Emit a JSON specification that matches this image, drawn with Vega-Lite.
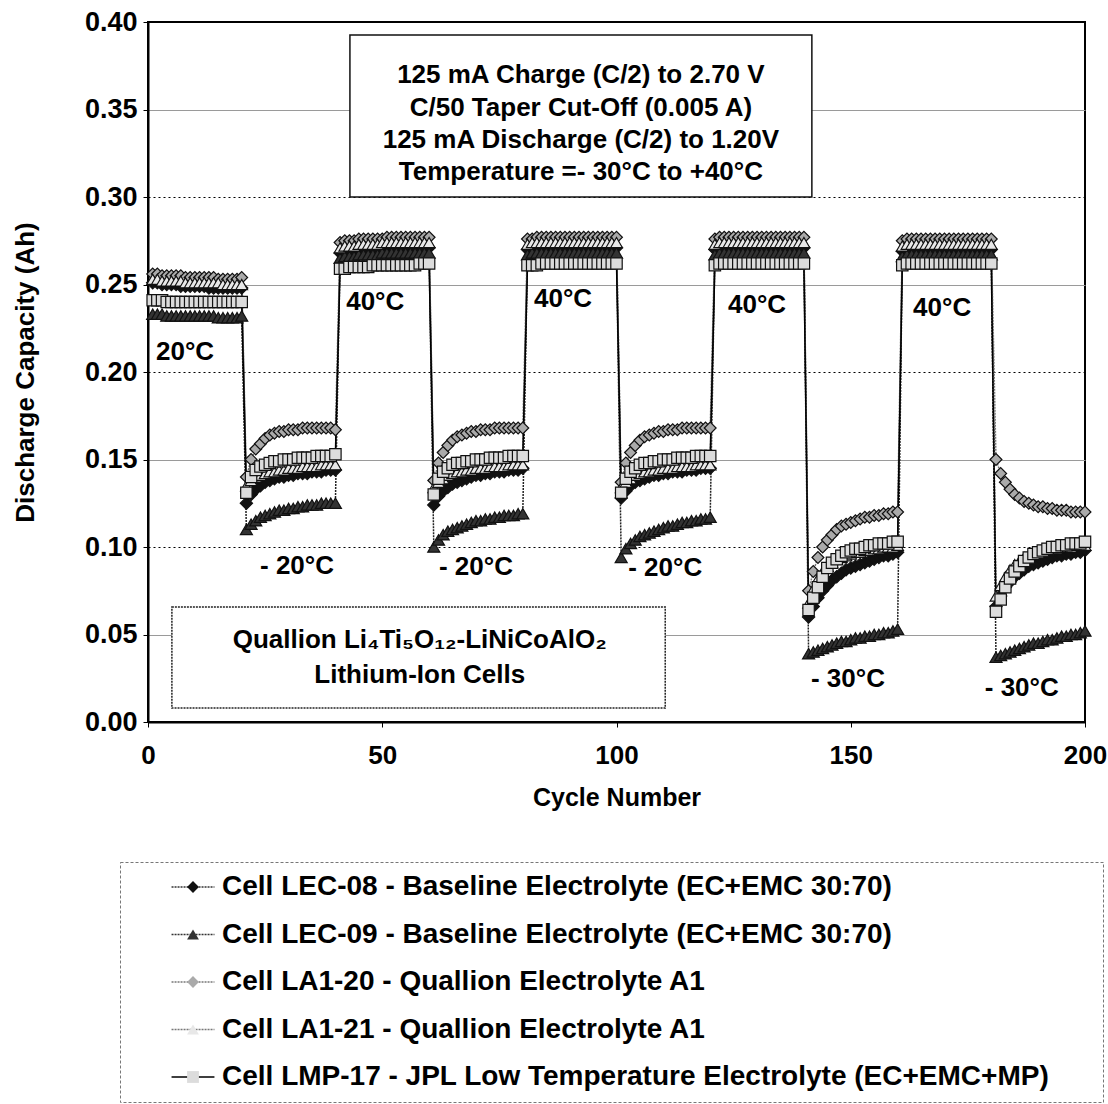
{
"$schema": "https://vega.github.io/schema/vega-lite/v6.json",
"autosize": {"type": "none"},
"width": 937, "height": 700,
"padding": {"left": 148, "top": 22, "right": 23, "bottom": 382},
"background": "white",
"config": {"view": {"stroke": "#000", "strokeWidth": 2}, "font": "Liberation Sans"},
"datasets": {
"cap": [
{"c":1,"A":0.251,"B":0.233,"C":0.256,"D":0.253,"E":0.241},
{"c":2,"A":0.251,"B":0.233,"C":0.256,"D":0.253,"E":0.241},
{"c":3,"A":0.250,"B":0.233,"C":0.255,"D":0.252,"E":0.241},
{"c":4,"A":0.250,"B":0.232,"C":0.255,"D":0.252,"E":0.240},
{"c":5,"A":0.250,"B":0.232,"C":0.255,"D":0.252,"E":0.240},
{"c":6,"A":0.250,"B":0.232,"C":0.255,"D":0.252,"E":0.240},
{"c":7,"A":0.249,"B":0.232,"C":0.255,"D":0.252,"E":0.240},
{"c":8,"A":0.249,"B":0.232,"C":0.254,"D":0.251,"E":0.240},
{"c":9,"A":0.249,"B":0.232,"C":0.254,"D":0.251,"E":0.240},
{"c":10,"A":0.249,"B":0.232,"C":0.254,"D":0.251,"E":0.240},
{"c":11,"A":0.249,"B":0.232,"C":0.254,"D":0.251,"E":0.240},
{"c":12,"A":0.249,"B":0.232,"C":0.254,"D":0.251,"E":0.240},
{"c":13,"A":0.248,"B":0.232,"C":0.254,"D":0.251,"E":0.240},
{"c":14,"A":0.248,"B":0.232,"C":0.254,"D":0.251,"E":0.240},
{"c":15,"A":0.248,"B":0.231,"C":0.253,"D":0.251,"E":0.240},
{"c":16,"A":0.248,"B":0.231,"C":0.253,"D":0.250,"E":0.240},
{"c":17,"A":0.248,"B":0.231,"C":0.253,"D":0.250,"E":0.240},
{"c":18,"A":0.248,"B":0.231,"C":0.253,"D":0.250,"E":0.240},
{"c":19,"A":0.248,"B":0.231,"C":0.253,"D":0.250,"E":0.240},
{"c":20,"A":0.248,"B":0.232,"C":0.254,"D":0.250,"E":0.240},
{"c":21,"A":0.125,"B":0.110,"C":0.140,"D":0.135,"E":0.131},
{"c":22,"A":0.130,"B":0.113,"C":0.150,"D":0.138,"E":0.140},
{"c":23,"A":0.133,"B":0.115,"C":0.156,"D":0.140,"E":0.144},
{"c":24,"A":0.135,"B":0.117,"C":0.159,"D":0.141,"E":0.146},
{"c":25,"A":0.137,"B":0.118,"C":0.162,"D":0.142,"E":0.147},
{"c":26,"A":0.138,"B":0.119,"C":0.164,"D":0.143,"E":0.148},
{"c":27,"A":0.139,"B":0.120,"C":0.165,"D":0.143,"E":0.149},
{"c":28,"A":0.140,"B":0.121,"C":0.166,"D":0.144,"E":0.149},
{"c":29,"A":0.140,"B":0.121,"C":0.166,"D":0.144,"E":0.150},
{"c":30,"A":0.141,"B":0.122,"C":0.167,"D":0.145,"E":0.150},
{"c":31,"A":0.141,"B":0.122,"C":0.167,"D":0.145,"E":0.150},
{"c":32,"A":0.142,"B":0.123,"C":0.167,"D":0.145,"E":0.151},
{"c":33,"A":0.142,"B":0.123,"C":0.168,"D":0.146,"E":0.151},
{"c":34,"A":0.142,"B":0.124,"C":0.168,"D":0.146,"E":0.151},
{"c":35,"A":0.143,"B":0.124,"C":0.168,"D":0.146,"E":0.151},
{"c":36,"A":0.143,"B":0.124,"C":0.168,"D":0.146,"E":0.152},
{"c":37,"A":0.143,"B":0.125,"C":0.168,"D":0.147,"E":0.152},
{"c":38,"A":0.144,"B":0.125,"C":0.168,"D":0.147,"E":0.152},
{"c":39,"A":0.144,"B":0.125,"C":0.168,"D":0.147,"E":0.152},
{"c":40,"A":0.144,"B":0.125,"C":0.167,"D":0.147,"E":0.153},
{"c":41,"A":0.268,"B":0.265,"C":0.274,"D":0.271,"E":0.259},
{"c":42,"A":0.269,"B":0.266,"C":0.275,"D":0.272,"E":0.259},
{"c":43,"A":0.269,"B":0.266,"C":0.275,"D":0.272,"E":0.260},
{"c":44,"A":0.269,"B":0.266,"C":0.275,"D":0.272,"E":0.260},
{"c":45,"A":0.270,"B":0.267,"C":0.276,"D":0.273,"E":0.260},
{"c":46,"A":0.270,"B":0.267,"C":0.276,"D":0.273,"E":0.260},
{"c":47,"A":0.270,"B":0.267,"C":0.276,"D":0.273,"E":0.260},
{"c":48,"A":0.270,"B":0.267,"C":0.276,"D":0.273,"E":0.261},
{"c":49,"A":0.270,"B":0.267,"C":0.276,"D":0.273,"E":0.261},
{"c":50,"A":0.271,"B":0.268,"C":0.276,"D":0.274,"E":0.261},
{"c":51,"A":0.271,"B":0.268,"C":0.277,"D":0.274,"E":0.261},
{"c":52,"A":0.271,"B":0.268,"C":0.277,"D":0.274,"E":0.261},
{"c":53,"A":0.271,"B":0.268,"C":0.277,"D":0.274,"E":0.261},
{"c":54,"A":0.271,"B":0.268,"C":0.277,"D":0.274,"E":0.261},
{"c":55,"A":0.271,"B":0.268,"C":0.277,"D":0.274,"E":0.261},
{"c":56,"A":0.271,"B":0.268,"C":0.277,"D":0.274,"E":0.261},
{"c":57,"A":0.271,"B":0.268,"C":0.277,"D":0.274,"E":0.261},
{"c":58,"A":0.271,"B":0.268,"C":0.277,"D":0.274,"E":0.262},
{"c":59,"A":0.271,"B":0.268,"C":0.277,"D":0.274,"E":0.262},
{"c":60,"A":0.271,"B":0.268,"C":0.277,"D":0.274,"E":0.262},
{"c":61,"A":0.124,"B":0.100,"C":0.138,"D":0.134,"E":0.130},
{"c":62,"A":0.129,"B":0.104,"C":0.148,"D":0.137,"E":0.139},
{"c":63,"A":0.132,"B":0.107,"C":0.154,"D":0.139,"E":0.143},
{"c":64,"A":0.134,"B":0.109,"C":0.158,"D":0.141,"E":0.145},
{"c":65,"A":0.136,"B":0.110,"C":0.161,"D":0.142,"E":0.147},
{"c":66,"A":0.137,"B":0.111,"C":0.163,"D":0.143,"E":0.148},
{"c":67,"A":0.138,"B":0.112,"C":0.164,"D":0.143,"E":0.148},
{"c":68,"A":0.139,"B":0.113,"C":0.165,"D":0.144,"E":0.149},
{"c":69,"A":0.140,"B":0.114,"C":0.166,"D":0.144,"E":0.149},
{"c":70,"A":0.141,"B":0.115,"C":0.166,"D":0.145,"E":0.150},
{"c":71,"A":0.141,"B":0.115,"C":0.167,"D":0.145,"E":0.150},
{"c":72,"A":0.142,"B":0.116,"C":0.167,"D":0.145,"E":0.150},
{"c":73,"A":0.142,"B":0.116,"C":0.167,"D":0.146,"E":0.151},
{"c":74,"A":0.143,"B":0.117,"C":0.168,"D":0.146,"E":0.151},
{"c":75,"A":0.143,"B":0.117,"C":0.168,"D":0.146,"E":0.151},
{"c":76,"A":0.143,"B":0.118,"C":0.168,"D":0.146,"E":0.151},
{"c":77,"A":0.144,"B":0.118,"C":0.168,"D":0.147,"E":0.152},
{"c":78,"A":0.144,"B":0.118,"C":0.168,"D":0.147,"E":0.152},
{"c":79,"A":0.144,"B":0.119,"C":0.168,"D":0.147,"E":0.152},
{"c":80,"A":0.145,"B":0.119,"C":0.168,"D":0.147,"E":0.152},
{"c":81,"A":0.270,"B":0.267,"C":0.276,"D":0.273,"E":0.261},
{"c":82,"A":0.271,"B":0.268,"C":0.276,"D":0.274,"E":0.261},
{"c":83,"A":0.271,"B":0.268,"C":0.277,"D":0.274,"E":0.261},
{"c":84,"A":0.271,"B":0.268,"C":0.277,"D":0.274,"E":0.262},
{"c":85,"A":0.271,"B":0.268,"C":0.277,"D":0.274,"E":0.262},
{"c":86,"A":0.271,"B":0.268,"C":0.277,"D":0.274,"E":0.262},
{"c":87,"A":0.271,"B":0.268,"C":0.277,"D":0.274,"E":0.262},
{"c":88,"A":0.271,"B":0.268,"C":0.277,"D":0.274,"E":0.262},
{"c":89,"A":0.271,"B":0.268,"C":0.277,"D":0.274,"E":0.262},
{"c":90,"A":0.271,"B":0.268,"C":0.277,"D":0.274,"E":0.262},
{"c":91,"A":0.271,"B":0.268,"C":0.277,"D":0.274,"E":0.262},
{"c":92,"A":0.271,"B":0.268,"C":0.277,"D":0.274,"E":0.262},
{"c":93,"A":0.271,"B":0.268,"C":0.277,"D":0.274,"E":0.262},
{"c":94,"A":0.271,"B":0.268,"C":0.277,"D":0.274,"E":0.262},
{"c":95,"A":0.271,"B":0.268,"C":0.277,"D":0.274,"E":0.262},
{"c":96,"A":0.271,"B":0.268,"C":0.277,"D":0.274,"E":0.262},
{"c":97,"A":0.271,"B":0.268,"C":0.277,"D":0.274,"E":0.262},
{"c":98,"A":0.271,"B":0.268,"C":0.277,"D":0.274,"E":0.262},
{"c":99,"A":0.271,"B":0.268,"C":0.277,"D":0.274,"E":0.262},
{"c":100,"A":0.271,"B":0.268,"C":0.277,"D":0.274,"E":0.262},
{"c":101,"A":0.128,"B":0.094,"C":0.137,"D":0.134,"E":0.131},
{"c":102,"A":0.132,"B":0.099,"C":0.148,"D":0.137,"E":0.139},
{"c":103,"A":0.135,"B":0.102,"C":0.154,"D":0.139,"E":0.143},
{"c":104,"A":0.137,"B":0.104,"C":0.158,"D":0.141,"E":0.145},
{"c":105,"A":0.138,"B":0.106,"C":0.161,"D":0.142,"E":0.147},
{"c":106,"A":0.139,"B":0.107,"C":0.163,"D":0.143,"E":0.148},
{"c":107,"A":0.140,"B":0.108,"C":0.164,"D":0.143,"E":0.148},
{"c":108,"A":0.141,"B":0.109,"C":0.165,"D":0.144,"E":0.149},
{"c":109,"A":0.141,"B":0.110,"C":0.166,"D":0.144,"E":0.149},
{"c":110,"A":0.142,"B":0.111,"C":0.166,"D":0.145,"E":0.150},
{"c":111,"A":0.142,"B":0.112,"C":0.167,"D":0.145,"E":0.150},
{"c":112,"A":0.143,"B":0.112,"C":0.167,"D":0.145,"E":0.150},
{"c":113,"A":0.143,"B":0.113,"C":0.167,"D":0.146,"E":0.151},
{"c":114,"A":0.143,"B":0.114,"C":0.168,"D":0.146,"E":0.151},
{"c":115,"A":0.144,"B":0.114,"C":0.168,"D":0.146,"E":0.151},
{"c":116,"A":0.144,"B":0.115,"C":0.168,"D":0.146,"E":0.151},
{"c":117,"A":0.144,"B":0.115,"C":0.168,"D":0.147,"E":0.152},
{"c":118,"A":0.145,"B":0.116,"C":0.168,"D":0.147,"E":0.152},
{"c":119,"A":0.145,"B":0.116,"C":0.168,"D":0.147,"E":0.152},
{"c":120,"A":0.145,"B":0.117,"C":0.168,"D":0.147,"E":0.152},
{"c":121,"A":0.270,"B":0.267,"C":0.276,"D":0.273,"E":0.261},
{"c":122,"A":0.271,"B":0.268,"C":0.277,"D":0.274,"E":0.262},
{"c":123,"A":0.271,"B":0.268,"C":0.277,"D":0.274,"E":0.262},
{"c":124,"A":0.271,"B":0.268,"C":0.277,"D":0.274,"E":0.262},
{"c":125,"A":0.271,"B":0.268,"C":0.277,"D":0.274,"E":0.262},
{"c":126,"A":0.271,"B":0.268,"C":0.277,"D":0.274,"E":0.262},
{"c":127,"A":0.271,"B":0.268,"C":0.277,"D":0.274,"E":0.262},
{"c":128,"A":0.271,"B":0.268,"C":0.277,"D":0.274,"E":0.262},
{"c":129,"A":0.271,"B":0.268,"C":0.277,"D":0.274,"E":0.262},
{"c":130,"A":0.271,"B":0.268,"C":0.277,"D":0.274,"E":0.262},
{"c":131,"A":0.271,"B":0.268,"C":0.277,"D":0.274,"E":0.262},
{"c":132,"A":0.271,"B":0.268,"C":0.277,"D":0.274,"E":0.262},
{"c":133,"A":0.271,"B":0.268,"C":0.277,"D":0.274,"E":0.262},
{"c":134,"A":0.271,"B":0.268,"C":0.277,"D":0.274,"E":0.262},
{"c":135,"A":0.271,"B":0.268,"C":0.277,"D":0.274,"E":0.262},
{"c":136,"A":0.271,"B":0.268,"C":0.277,"D":0.274,"E":0.262},
{"c":137,"A":0.271,"B":0.268,"C":0.277,"D":0.274,"E":0.262},
{"c":138,"A":0.271,"B":0.268,"C":0.277,"D":0.274,"E":0.262},
{"c":139,"A":0.271,"B":0.268,"C":0.277,"D":0.274,"E":0.262},
{"c":140,"A":0.271,"B":0.268,"C":0.277,"D":0.274,"E":0.262},
{"c":141,"A":0.060,"B":0.039,"C":0.075,"D":0.068,"E":0.064},
{"c":142,"A":0.066,"B":0.040,"C":0.086,"D":0.076,"E":0.071},
{"c":143,"A":0.071,"B":0.041,"C":0.094,"D":0.082,"E":0.077},
{"c":144,"A":0.075,"B":0.042,"C":0.100,"D":0.086,"E":0.083},
{"c":145,"A":0.078,"B":0.043,"C":0.104,"D":0.089,"E":0.088},
{"c":146,"A":0.081,"B":0.044,"C":0.107,"D":0.091,"E":0.091},
{"c":147,"A":0.083,"B":0.045,"C":0.110,"D":0.093,"E":0.093},
{"c":148,"A":0.085,"B":0.046,"C":0.112,"D":0.094,"E":0.095},
{"c":149,"A":0.087,"B":0.046,"C":0.113,"D":0.095,"E":0.097},
{"c":150,"A":0.088,"B":0.047,"C":0.114,"D":0.096,"E":0.098},
{"c":151,"A":0.089,"B":0.048,"C":0.115,"D":0.097,"E":0.099},
{"c":152,"A":0.090,"B":0.048,"C":0.116,"D":0.097,"E":0.099},
{"c":153,"A":0.091,"B":0.049,"C":0.117,"D":0.098,"E":0.100},
{"c":154,"A":0.092,"B":0.049,"C":0.117,"D":0.098,"E":0.101},
{"c":155,"A":0.093,"B":0.050,"C":0.118,"D":0.099,"E":0.101},
{"c":156,"A":0.094,"B":0.050,"C":0.118,"D":0.099,"E":0.102},
{"c":157,"A":0.095,"B":0.051,"C":0.119,"D":0.100,"E":0.102},
{"c":158,"A":0.095,"B":0.051,"C":0.119,"D":0.100,"E":0.102},
{"c":159,"A":0.096,"B":0.052,"C":0.120,"D":0.100,"E":0.103},
{"c":160,"A":0.097,"B":0.053,"C":0.120,"D":0.101,"E":0.103},
{"c":161,"A":0.269,"B":0.266,"C":0.275,"D":0.272,"E":0.261},
{"c":162,"A":0.270,"B":0.267,"C":0.276,"D":0.273,"E":0.262},
{"c":163,"A":0.270,"B":0.267,"C":0.276,"D":0.273,"E":0.262},
{"c":164,"A":0.270,"B":0.267,"C":0.276,"D":0.273,"E":0.262},
{"c":165,"A":0.270,"B":0.267,"C":0.276,"D":0.273,"E":0.262},
{"c":166,"A":0.270,"B":0.267,"C":0.276,"D":0.273,"E":0.262},
{"c":167,"A":0.270,"B":0.267,"C":0.276,"D":0.273,"E":0.262},
{"c":168,"A":0.270,"B":0.267,"C":0.276,"D":0.273,"E":0.262},
{"c":169,"A":0.270,"B":0.267,"C":0.276,"D":0.273,"E":0.262},
{"c":170,"A":0.270,"B":0.267,"C":0.276,"D":0.273,"E":0.262},
{"c":171,"A":0.270,"B":0.267,"C":0.276,"D":0.273,"E":0.262},
{"c":172,"A":0.270,"B":0.267,"C":0.276,"D":0.273,"E":0.262},
{"c":173,"A":0.270,"B":0.267,"C":0.276,"D":0.273,"E":0.262},
{"c":174,"A":0.270,"B":0.267,"C":0.276,"D":0.273,"E":0.262},
{"c":175,"A":0.270,"B":0.267,"C":0.276,"D":0.273,"E":0.262},
{"c":176,"A":0.270,"B":0.267,"C":0.276,"D":0.273,"E":0.262},
{"c":177,"A":0.270,"B":0.267,"C":0.276,"D":0.273,"E":0.262},
{"c":178,"A":0.270,"B":0.267,"C":0.276,"D":0.273,"E":0.262},
{"c":179,"A":0.270,"B":0.267,"C":0.276,"D":0.273,"E":0.262},
{"c":180,"A":0.270,"B":0.267,"C":0.276,"D":0.273,"E":0.262},
{"c":181,"A":0.066,"B":0.037,"C":0.150,"D":0.072,"E":0.063},
{"c":182,"A":0.072,"B":0.038,"C":0.142,"D":0.078,"E":0.070},
{"c":183,"A":0.077,"B":0.039,"C":0.137,"D":0.083,"E":0.077},
{"c":184,"A":0.080,"B":0.040,"C":0.133,"D":0.087,"E":0.082},
{"c":185,"A":0.083,"B":0.041,"C":0.130,"D":0.090,"E":0.086},
{"c":186,"A":0.085,"B":0.042,"C":0.128,"D":0.092,"E":0.089},
{"c":187,"A":0.087,"B":0.043,"C":0.126,"D":0.094,"E":0.092},
{"c":188,"A":0.089,"B":0.044,"C":0.125,"D":0.095,"E":0.094},
{"c":189,"A":0.090,"B":0.045,"C":0.124,"D":0.096,"E":0.096},
{"c":190,"A":0.091,"B":0.045,"C":0.123,"D":0.097,"E":0.097},
{"c":191,"A":0.092,"B":0.046,"C":0.123,"D":0.098,"E":0.098},
{"c":192,"A":0.093,"B":0.047,"C":0.122,"D":0.098,"E":0.099},
{"c":193,"A":0.094,"B":0.047,"C":0.122,"D":0.099,"E":0.100},
{"c":194,"A":0.095,"B":0.048,"C":0.121,"D":0.099,"E":0.100},
{"c":195,"A":0.095,"B":0.049,"C":0.121,"D":0.100,"E":0.101},
{"c":196,"A":0.096,"B":0.049,"C":0.121,"D":0.100,"E":0.101},
{"c":197,"A":0.096,"B":0.050,"C":0.120,"D":0.100,"E":0.102},
{"c":198,"A":0.097,"B":0.050,"C":0.120,"D":0.101,"E":0.102},
{"c":199,"A":0.097,"B":0.051,"C":0.120,"D":0.101,"E":0.102},
{"c":200,"A":0.098,"B":0.052,"C":0.120,"D":0.101,"E":0.103}
],
"ann": [
{"x":7.9,"y":0.2114,"t":"20°C"},
{"x":48.5,"y":0.240,"t":"40°C"},
{"x":88.6,"y":0.2417,"t":"40°C"},
{"x":130,"y":0.2383,"t":"40°C"},
{"x":169.5,"y":0.2366,"t":"40°C"},
{"x":31.8,"y":0.0891,"t":"- 20°C"},
{"x":70,"y":0.0886,"t":"- 20°C"},
{"x":110.4,"y":0.088,"t":"- 20°C"},
{"x":149.4,"y":0.0246,"t":"- 30°C"},
{"x":186.5,"y":0.0194,"t":"- 30°C"},
{"x":92.4,"y":0.3697,"t":"125 mA Charge  (C/2) to 2.70 V"},
{"x":92.4,"y":0.3509,"t":"C/50 Taper Cut-Off (0.005 A)"},
{"x":92.4,"y":0.3326,"t":"125 mA Discharge (C/2) to 1.20V"},
{"x":92.4,"y":0.3143,"t":"Temperature =- 30°C to +40°C"},
{"x":58,"y":0.0469,"t":"Quallion Li₄Ti₅O₁₂-LiNiCoAlO₂"},
{"x":58,"y":0.0269,"t":"Lithium-Ion Cells"}
],
"boxTop": [{"x":43.1,"x2":141.7,"y":0.3926,"y2":0.300}],
"boxBot": [{"x":5.1,"x2":110.4,"y":0.0657,"y2":0.008}]
},
"layer": [
{
"data": {"name": "cap"},
"transform": [{"fold": ["A", "B", "C", "D", "E"], "as": ["s", "v"]}],
"mark": {"type": "line", "strokeWidth": 1.5},
"encoding": {
"x": {"field": "c", "type": "quantitative", "scale": {"domain": [0, 200], "nice": false},
"axis": {"title": "Cycle Number", "values": [0, 50, 100, 150, 200], "format": "d", "grid": false, "labelFlush": false,
"labelFont": "Liberation Sans", "labelFontWeight": "bold", "labelFontSize": 26, "labelColor": "#000", "labelPadding": 15,
"tickSize": 5, "tickColor": "#000", "domainColor": "#000", "domainWidth": 2,
"titleFont": "Liberation Sans", "titleFontSize": 25, "titleFontWeight": "bold", "titleColor": "#000", "titleY": 75, "titleBaseline": "middle"}},
"y": {"field": "v", "type": "quantitative", "scale": {"domain": [0, 0.4], "nice": false},
"axis": {"title": "Discharge Capacity (Ah)", "values": [0, 0.05, 0.1, 0.15, 0.2, 0.25, 0.3, 0.35, 0.4], "format": ".2f",
"labelFont": "Liberation Sans", "labelFontWeight": "bold", "labelFontSize": 27, "labelColor": "#000", "labelPadding": 6,
"tickSize": 5, "tickColor": "#000", "domainColor": "#000", "domainWidth": 2,
"grid": true, "gridWidth": 1.2,
"gridColor": {"condition": {"test": "round(datum.value*100)%10===0", "value": "#000"}, "value": "#9a9a9a"},
"gridDash": {"condition": {"test": "round(datum.value*100)%10===0", "value": [2, 3]}, "value": []},
"titleFont": "Liberation Sans", "titleFontSize": 26, "titleFontWeight": "bold", "titleColor": "#000", "titleX": -123, "titleY": 350, "titleBaseline": "middle"}},
"stroke": {"field": "s", "type": "nominal", "scale": {"domain": ["A", "B", "C", "D", "E"], "range": ["#222", "#222", "#777", "#555", "#000"]}, "legend": null},
"strokeDash": {"field": "s", "type": "nominal", "scale": {"domain": ["A", "B", "C", "D", "E"], "range": [[2, 1], [2, 1], [2, 1], [2, 1], [1, 0]]}, "legend": null}
}
},
{
"data": {"name": "cap"},
"transform": [{"fold": ["A", "B", "C", "D", "E"], "as": ["s", "v"]}],
"mark": {"type": "point", "filled": false, "stroke": "#111", "strokeWidth": 1.2},
"encoding": {
"x": {"field": "c", "type": "quantitative"},
"y": {"field": "v", "type": "quantitative"},
"order": {"field": "s", "type": "ordinal"},
"size": {"field": "s", "type": "nominal", "scale": {"domain": ["A", "B", "C", "D", "E"], "range": [150, 130, 150, 130, 125]}, "legend": null},
"opacity": {"field": "s", "type": "nominal", "scale": {"domain": ["A", "B", "C", "D", "E", "Y"], "range": [1, 1, 1, 1, 1, 1]},
"legend": {"orient": "none", "legendX": -28, "legendY": 840, "zindex": 0, "values": ["A", "B", "C", "D", "E"],
"title": "M", "titleOrient": "right", "titleColor": "transparent", "titleFontSize": 28, "titlePadding": 19,
"direction": "vertical", "symbolType": "M-1.65,0L1.65,0", "symbolSize": 676, "symbolStrokeColor": "#444", "symbolFillColor": "transparent",
"symbolStrokeWidth": 1.5, "symbolDash": [2, 1], "symbolOffset": 48, "labelOffset": 15, "rowPadding": 19.5, "padding": 11,
"labelFont": "Liberation Sans", "labelFontSize": 28, "labelFontWeight": "bold", "labelColor": "#000", "labelLimit": 1000,
"strokeColor": "#777",
"labelExpr": "datum.label==='A' ? 'Cell LEC-08 - Baseline Electrolyte (EC+EMC 30:70)' : datum.label==='B' ? 'Cell LEC-09 - Baseline Electrolyte (EC+EMC 30:70)' : datum.label==='C' ? 'Cell LA1-20 - Quallion Electrolyte A1' : datum.label==='D' ? 'Cell LA1-21 - Quallion Electrolyte A1' : 'Cell LMP-17 - JPL Low Temperature Electrolyte (EC+EMC+MP)'",
"encode": {"legend": {"update": {"strokeDash": {"value": [3, 2]}}},
"symbols": {"update": {"stroke": {"signal": "datum.value==='E' ? '#000' : (datum.value==='C' || datum.value==='D') ? '#777' : '#333'"}, "strokeDash": {"signal": "datum.value==='E' ? [1,0] : [2,1]"}}}}
}},
"fill": {"field": "s", "type": "nominal", "scale": {"domain": ["A", "B", "C", "D", "E", "Z"], "range": ["#111", "#333", "#aaaaaa", "#e8e8e8", "#dcdcdc", "#fff"]}},
"shape": {"field": "s", "type": "nominal", "scale": {"domain": ["A", "B", "C", "D", "E", "Z"], "range": ["diamond", "triangle-up", "diamond", "triangle-up", "square", "circle"]},
"legend": {"orient": "none", "legendX": -28, "legendY": 840, "zindex": 1, "title": null, "values": ["A", "B", "C", "D", "E"],
"direction": "vertical", "symbolSize": 140, "symbolStrokeColor": "#111", "symbolStrokeWidth": 1.2, "symbolOpacity": 1,
"symbolOffset": 48, "labelOffset": 15, "rowPadding": 19.5, "padding": 11,
"labelFont": "Liberation Sans", "labelFontSize": 28, "labelFontWeight": "bold", "labelLimit": 1000, "labelExpr": "' '"}}
}
},
{
"data": {"name": "boxTop"},
"mark": {"type": "rect", "fill": "white", "stroke": "#111", "strokeWidth": 1.5},
"encoding": {
"x": {"field": "x", "type": "quantitative"},
"x2": {"field": "x2"},
"y": {"field": "y", "type": "quantitative"},
"y2": {"field": "y2"}
}
},
{
"data": {"name": "boxBot"},
"mark": {"type": "rect", "fill": "white", "stroke": "#222", "strokeWidth": 1.5, "strokeDash": [2, 1]},
"encoding": {
"x": {"field": "x", "type": "quantitative"},
"x2": {"field": "x2"},
"y": {"field": "y", "type": "quantitative"},
"y2": {"field": "y2"}
}
},
{
"data": {"name": "ann"},
"mark": {"type": "text", "font": "Liberation Sans", "fontSize": 26, "fontWeight": "bold", "color": "#000", "align": "center", "baseline": "middle"},
"encoding": {
"x": {"field": "x", "type": "quantitative"},
"y": {"field": "y", "type": "quantitative"},
"text": {"field": "t"}
}
}
]
}
